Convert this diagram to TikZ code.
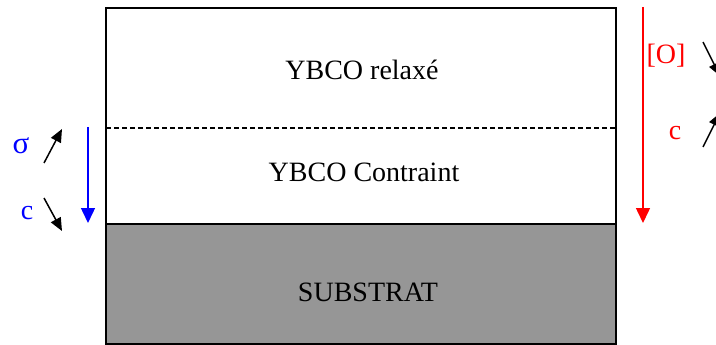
\documentclass[tikz,border=0pt]{standalone}
\usepackage{fontspec}
\setmainfont{Liberation Serif}
\usetikzlibrary{arrows.meta}
\begin{document}
\begin{tikzpicture}[x=1pt,y=-1pt,
  lbl/.style={font=\fontsize{28}{30}\selectfont, inner sep=0pt},
  ax/.style={-{Triangle[length=15pt,width=14pt]}, line width=1.5pt},
  sm/.style={-{Triangle[length=13pt,width=11pt]}, line width=1.5pt, black}]
\useasboundingbox (0,0) rectangle (716,345);
\clip (0,0) rectangle (716,345);
\fill[fill={rgb,255:red,150;green,150;blue,150}] (106,224) rectangle (616,345);
\draw[line width=1.5pt] (106,8) rectangle (616,344);
\draw[line width=1.5pt] (106,224) -- (616,224);
\draw[line width=1.2pt, dash pattern=on 5pt off 3pt] (106,128) -- (616,128);
\node[lbl] (relaxe) at (362,70) {YBCO relaxé};
\node[lbl] (contraint) at (364,172) {YBCO Contraint};
\node[lbl] (sub) at (368,292) {SUBSTRAT};
% left
\coordinate (bl1) at (88,127);
\coordinate (bl2) at (88,223);
\draw[ax, blue] (bl1) -- (bl2);
\node[lbl, blue, font=\fontsize{31}{32}\selectfont] (sigma) at (21,146) {σ};
\node[lbl, blue] (cl) at (27,213) {c};
\coordinate (s1) at (44,163); \coordinate (s2) at (62,129);
\draw[sm] (s1) -- (s2);
\coordinate (c1) at (44,198); \coordinate (c2) at (62,231);
\draw[sm] (c1) -- (c2);
% right
\coordinate (rd1) at (643,7);
\coordinate (rd2) at (643,223);
\draw[ax, red] (rd1) -- (rd2);
\node[lbl, red] (ox) at (666,56) {[O]};
\node[lbl, red] (cr) at (675,133) {c};
\coordinate (o1) at (703,42); \coordinate (o2) at (720,76);
\draw[sm] (o1) -- (o2);
\coordinate (q1) at (703,147); \coordinate (q2) at (720,113);
\draw[sm] (q1) -- (q2);
\end{tikzpicture}
\end{document}
